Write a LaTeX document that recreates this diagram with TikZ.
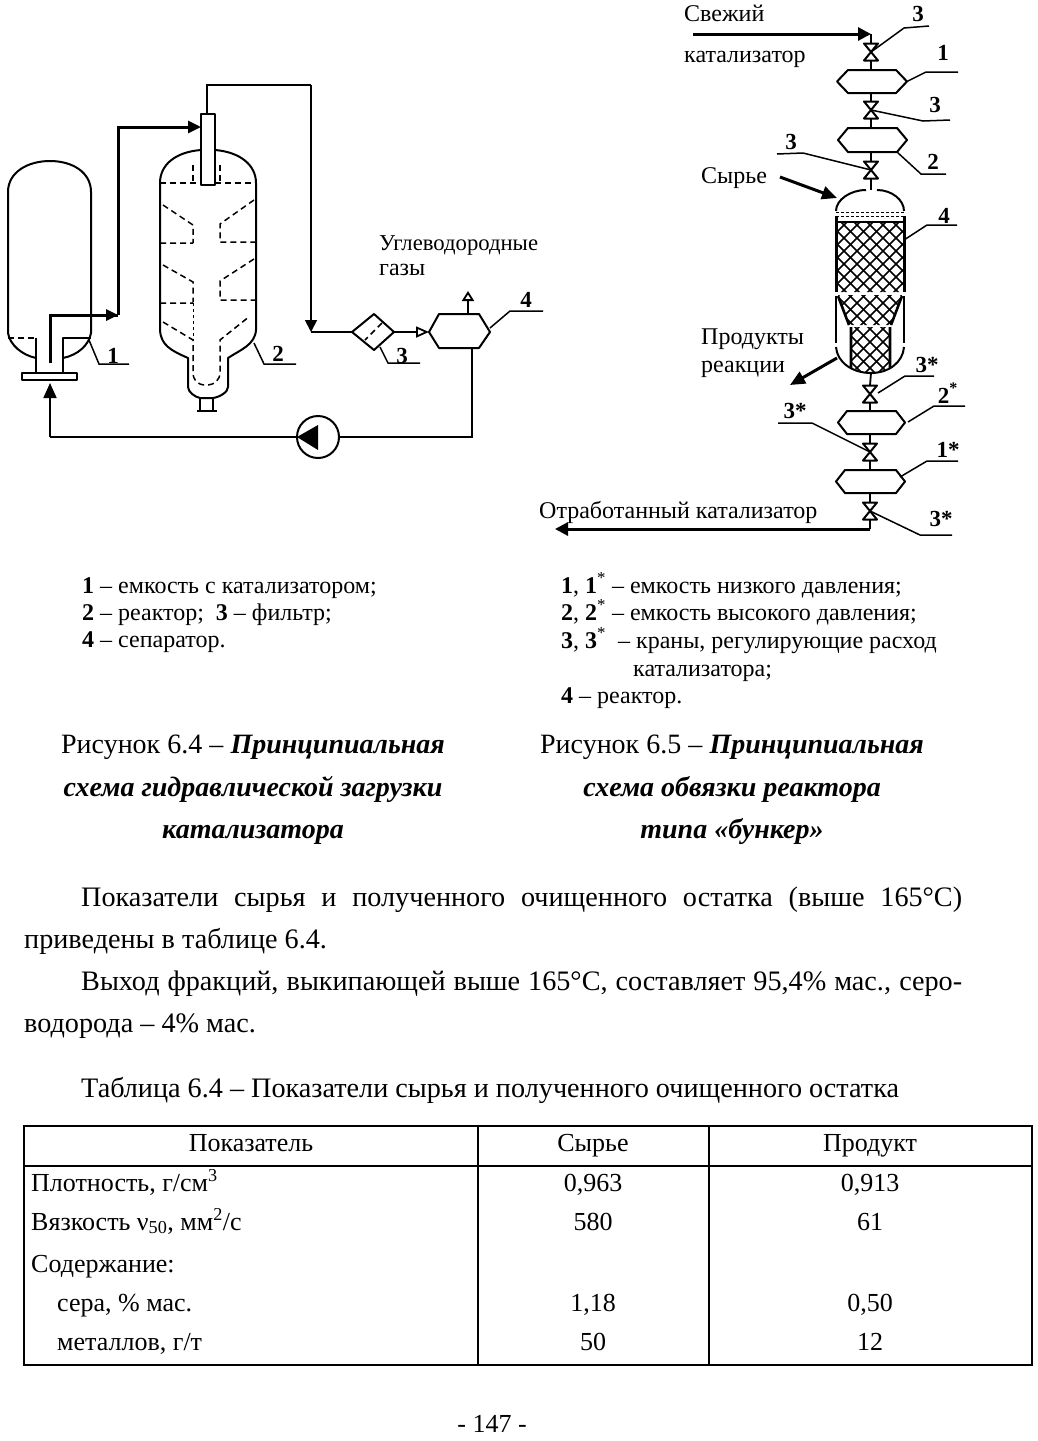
\documentclass[tikz,border=0pt]{standalone}
\usepackage{fontspec}
\setmainfont{Liberation Serif}
\usetikzlibrary{arrows.meta}
% hexagonal vessel on the vertical line: name, left, right, inset, top, bottom, pipe x
\newcommand{\hexvessel}[7]{
  \draw[vessel] (#2,{(#5+#6)/2}) -- ({#2+#4},#5) -- ({#3-#4},#5) -- (#3,{(#5+#6)/2}) -- ({#3-#4},#6) -- ({#2+#4},#6) -- cycle;
  \coordinate (#1-t) at (#7,#5); \coordinate (#1-b) at (#7,#6);
  \coordinate (#1-r) at (#3,{(#5+#6)/2}); \coordinate (#1-l) at (#2,{(#5+#6)/2});
}
% valve: name, x, y
\newcommand{\valvecock}[3]{
  \draw[vessel] ({#2-7},{#3-8.5}) -- ({#2+7},{#3-8.5}) -- ({#2-7},{#3+8.5}) -- ({#2+7},{#3+8.5}) -- cycle;
  \coordinate (#1) at (#2,#3); \coordinate (#1-t) at (#2,{#3-8.5}); \coordinate (#1-b) at (#2,{#3+8.5});
}
\begin{document}
\begin{tikzpicture}[x=1pt,y=-1pt,
  vessel/.style={line width=2pt,line join=round},
  pipe/.style={line width=1.8pt},
  flow/.style={line width=3pt},
  dsh/.style={line width=1.5pt,dash pattern=on 6pt off 4pt},
  leader/.style={line width=1.5pt},
  hatch/.style={line width=1.6pt},
  num/.style={font=\fontsize{23}{23}\selectfont\bfseries,anchor=base,inner sep=0pt},
  small/.style={font=\fontsize{24}{24}\selectfont,anchor=base west,inner sep=0pt},
  body/.style={font=\fontsize{28.2}{28.2}\selectfont,anchor=base west,inner sep=0pt},
  capt/.style={font=\fontsize{28}{28}\selectfont,anchor=base,inner sep=0pt},
  capbi/.style={capt,font=\fontsize{28}{28}\selectfont\bfseries\itshape},
  cell/.style={font=\fontsize{26}{26}\selectfont,anchor=base,inner sep=0pt},
  rowt/.style={font=\fontsize{26}{26}\selectfont,anchor=base west,inner sep=0pt}]
  \useasboundingbox (0,0) rectangle (1038,1441);

  % tank 1
  \draw[vessel] (8,192) .. controls (8,172) and (28,161) .. (50,161) .. controls (72,161) and (91,172) .. (91,192) -- (91,333)
    .. controls (89,345) and (78,355) .. (63,358);
  \draw[vessel] (8,192) -- (8,333) .. controls (10,345) and (22,355) .. (36,358);
  \draw[dsh] (8,338) -- (36,338);
  \draw[vessel] (91,338) -- (63,338) -- (63,373);
  \draw[vessel] (36,338) -- (36,373);
  \draw[vessel] (22,373) rectangle (77,380);
  \coordinate (riser) at (50,363);
  \coordinate (riserTop) at (50,315);
  \coordinate (feedBend) at (118,315);
  \coordinate (feedTop) at (118,127);

  % reactor 2
  \draw[vessel] (160,183) .. controls (160,165) and (175,152) .. (201,150);
  \draw[vessel] (215,150) .. controls (240,152) and (256,165) .. (256,183);
  \draw[vessel] (160,183) -- (160,330) .. controls (161,345) and (170,350) .. (188,358) -- (188,387)
    .. controls (188,392) and (195,397) .. (200,398) -- (213,398) .. controls (220,397) and (228,392) .. (228,387) -- (228,358)
    .. controls (240,350) and (255,345) .. (256,330) -- (256,183);
  \draw[vessel] (200,398) -- (200,411) (213,398) -- (213,411) (197,411) -- (217,411);
  \draw[vessel] (201,114) rectangle (215,185);
  \coordinate (feederIn) at (201,127);
  \coordinate (feederTop) at (207,114);
  % internals
  \draw[dsh] (160,183) -- (201,183) (215,183) -- (256,183);
  \draw[dsh] (193,165) -- (193,183) (220,165) -- (220,183);
  \draw[dsh] (163,205) -- (193,225) -- (193,243) (160,243) -- (193,243);
  \draw[dsh] (254,200) -- (220,224) -- (220,242) -- (256,242);
  \draw[dsh] (163,265) -- (193,282) -- (193,302) (160,303) -- (193,303);
  \draw[dsh] (254,259) -- (220,281) -- (220,300) -- (256,300);
  \draw[dsh] (163,322) -- (193,340) -- (193,372) .. controls (193,380) and (197,385) .. (206,385)
    .. controls (215,385) and (220,380) .. (220,372) -- (220,340) -- (250,316);
  \draw[line width=0.8pt,dash pattern=on 3pt off 3pt] (193,303) -- (193,340);

  % filter 3, separator 4, pump
  \draw[vessel] (352,332) -- (374,314) -- (394,332) -- (374,350) -- cycle;
  \draw[line width=1.5pt,dash pattern=on 6pt off 4pt] (382,323) -- (365,340);
  \coordinate (filterIn) at (352,332);
  \coordinate (filterOut) at (394,332);
  \draw[vessel] (429,332) -- (439,314) -- (479,314) -- (490,332) -- (479,348) -- (439,348) -- cycle;
  \coordinate (sepIn) at (429,332);
  \coordinate (sepTop) at (468,314);
  \coordinate (sepVent) at (468,291);
  \coordinate (sepBot) at (472,348);
  \coordinate (retCorner) at (472,437);
  \node[circle,draw,line width=2pt,minimum size=42pt,inner sep=0pt] (pump) at (318,437) {};
  \fill (297,437) -- (318,425) -- (318,450) -- cycle;
  \coordinate (retEnd) at (50,437);
  \coordinate (flangeIn) at (50,383);
  \coordinate (drop) at (311,85);
  \coordinate (dropEnd) at (311,332);

  % lines of fig 6.4
  \draw[pipe] (sepBot) -- (retCorner) -- (pump.east);
  \draw[pipe] (pump.west) -- (retEnd);
  \draw[pipe,-{Triangle[length=15pt,width=13pt]}] (retEnd) -- (flangeIn);
  \draw[flow] (riser) -- (riserTop) -- (feedBend);
  \fill (118,315) -- (106,309) -- (106,321) -- cycle;
  \draw[flow,-{Triangle[length=13pt,width=12pt]}] (feedBend) -- (feedTop) -- (feederIn);
  \draw[pipe] (feederTop) -- (207,85) -- (drop);
  \draw[pipe,-{Triangle[length=12pt,width=12pt]}] (drop) -- (dropEnd);
  \draw[pipe] (dropEnd) -- (filterIn);
  \draw[pipe,-{Triangle[open,length=13pt,width=11pt]}] (filterOut) -- (sepIn);
  \draw[pipe,-{Triangle[open,length=10pt,width=12pt]}] (sepTop) -- (sepVent);

  % fig 6.5: chain of vessels and valves
  \coordinate (inEnd) at (693,34);
  \coordinate (inTip) at (871,34);
  \valvecock{valA}{871}{52}
  \hexvessel{hexA}{837}{907}{11}{70}{93}{871}
  \valvecock{valB}{871}{110}
  \hexvessel{hexB}{838}{907}{10}{128}{152}{871}
  \valvecock{valC}{871}{170}
  \coordinate (rTop) at (871,190);
  \coordinate (rBot) at (871,373);
  \valvecock{valD}{870}{394}
  \hexvessel{hexC}{838}{905}{9}{411}{434}{870}
  \valvecock{valE}{870}{452}
  \hexvessel{hexD}{836}{905}{9}{470}{493}{870}
  \valvecock{valF}{870}{511}
  \coordinate (outCorner) at (870,529);
  \coordinate (outTip) at (555,529);
  \draw[flow,-{Triangle[length=13pt,width=13pt]}] (inEnd) -- (inTip);
  \draw[pipe] (inTip) -- (valA-t) (valA-b) -- (hexA-t) (hexA-b) -- (valB-t) (valB-b) -- (hexB-t) (hexB-b) -- (valC-t) (valC-b) -- (rTop);
  \draw[pipe] (rBot) -- (valD-t) (valD-b) -- (hexC-t) (hexC-b) -- (valE-t) (valE-b) -- (hexD-t) (hexD-b) -- (valF-t) (valF-b) -- (outCorner);
  \draw[flow,-{Triangle[length=13pt,width=13pt]}] (outCorner) -- (outTip);

  % reactor 4
  \begin{scope}
    \clip (836,222) rectangle (904,292) (838,295) -- (902,295) -- (891,325) -- (848,325) -- cycle
      (851,327) -- (890,327) -- (890,366) .. controls (885,371) and (878,373) .. (871,373)
      .. controls (864,373) and (857,371) .. (851,366) -- cycle;
    \foreach \k in {0,...,24} {
      \draw[hatch] ({650+\k*13},200) -- ++(190,190);
      \draw[hatch] ({830+\k*13},200) -- ++(-190,190);
    }
  \end{scope}
  \draw[vessel] (836,211) .. controls (836,200) and (850,190) .. (866,190);
  \draw[vessel] (877,190) .. controls (892,190) and (904,200) .. (904,211);
  \draw[line width=3pt] (836,216) -- (836,292) (904,216) -- (904,292);
  \draw[vessel] (836,296) -- (836,343) (904,296) -- (904,343);
  \draw[vessel] (836,347) .. controls (837,362) and (852,373) .. (871,373) .. controls (889,373) and (903,362) .. (904,347);
  \draw[line width=0.8pt,dash pattern=on 3pt off 2pt] (836,212) -- (904,212) (836,216) -- (904,216);
  \draw[line width=2.4pt] (836,222) -- (904,222);
  \draw[line width=2.6pt] (838,296) -- (849,325) (902,296) -- (891,325) (851,327) -- (851,368) (890,327) -- (890,368);
  \coordinate (feedFrom) at (780,177);
  \coordinate (feedTo) at (837,198);
  \coordinate (prodFrom) at (837,358);
  \coordinate (prodTo) at (790,385);
  \draw[flow,-{Triangle[length=15pt,width=13pt]}] (feedFrom) -- (feedTo);
  \draw[flow,-{Triangle[length=15pt,width=13pt]}] (prodFrom) -- (prodTo);

  % leaders
  \coordinate (ld1) at (89,340); \coordinate (ld2) at (254,343); \coordinate (ld3) at (380,347); \coordinate (ld4) at (490,328);
  \coordinate (ld5) at (904,240); \coordinate (ld6) at (878,393); \coordinate (ld7) at (908,422); \coordinate (ld8) at (900,477);
  \coordinate (ld9) at (897,152);
  \foreach \f/\mx/\my/\ex/\ey in {ld1/99/364/129/364, ld2/264/364/296/364, ld3/388/363/420/363, ld4/510/311/543/311,
      valA/904/28/929/26, hexA-r/926/72/958/72, valB/923/121/950/120, ld9/921/174/946/174, valC/803/153/777/154,
      ld5/927/225/957/225, ld6/905/376/934/376, ld7/934/406/965/406, valE/812/423/778/423, ld8/927/461/958/461, valF/920/535/952/535} {
    \coordinate (knee) at (\mx,\my);
    \coordinate (tail) at (\ex,\ey);
    \draw[leader] (\f) -- (knee) -- (tail);
  }

  % numbers on the leaders
  \foreach \n/\x/\y/\t in {na/113/363/1, nb/278/361/2, nc/402/363/3, nd/526/307/4, ne/918/21/3, nf/943/60/1, ng/935/112/3, nh/933/169/2,
      ni/791/149/3, nj/944/223/4, nk/927/372/3*, nl/948/403/{2\textsuperscript{*}}, nm/795/418/3*, nn/948/457/1*, no/941/526/3*}
    \node[num] (\n) at (\x,\y) {\t};

  % texts of the schemes
  \node[small,font=\fontsize{22.7}{22.7}\selectfont] (tUg) at (379,250) {Углеводородные};
  \foreach \n/\x/\y/\t in {tGa/379/275/газы, tSv/684/21/Свежий, tKa/684/62/катализатор, tSy/701/183/Сырье,
      tPr/701/344/Продукты, tRe/701/372/реакции, tOt/539/518/Отработанный катализатор}
    \node[small] (\n) at (\x,\y) {\t};

  % legends
  \foreach \n/\x/\y/\t in {la/82/593/{\textbf{1} – емкость с катализатором;}, lb/82/620/{\textbf{2} – реактор;\ \ \textbf{3} – фильтр;}, lc/82/647/{\textbf{4} – сепаратор.},
      ld/561/593/{\textbf{1}, \textbf{1}\textsuperscript{*} – емкость низкого давления;}, le/561/620/{\textbf{2}, \textbf{2}\textsuperscript{*} – емкость высокого давления;},
      lf/561/648/{\textbf{3}, \textbf{3}\textsuperscript{*}\ \ – краны, регулирующие расход}, lg/633/676/{катализатора;}, lh/561/703/{\textbf{4} – реактор.}}
    \node[small] (\n) at (\x,\y) {\t};

  % captions
  \node[capt] (capA) at (253,753) {Рисунок 6.4 – \textbf{\textit{Принципиальная}}};
  \node[capbi] (capB) at (253,796) {схема гидравлической загрузки};
  \node[capbi] (capC) at (253,838) {катализатора};
  \node[capt] (capD) at (732,753) {Рисунок 6.5 – \textbf{\textit{Принципиальная}}};
  \node[capbi] (capE) at (732,796) {схема обвязки реактора};
  \node[capbi] (capF) at (732,838) {типа «бункер»};

  % running text
  \node[body] (parA) at (81,906) {\makebox[881pt][s]{Показатели сырья и полученного очищенного остатка (выше 165°С)}};
  \node[body] (parB) at (24,948) {приведены в таблице 6.4.};
  \node[body] (parC) at (81,990) {\makebox[881pt][s]{Выход фракций, выкипающей выше 165°С, составляет 95,4\% мас., серо-}};
  \node[body] (parD) at (24,1032) {водорода – 4\% мас.};
  \node[body] (parE) at (81,1097) {Таблица 6.4 – Показатели сырья и полученного очищенного остатка};

  % table
  \draw[line width=1.8pt] (24,1126) rectangle (1032,1365);
  \draw[line width=1.8pt] (24,1166) -- (1032,1166) (478,1126) -- (478,1365) (709,1126) -- (709,1365);
  \node[cell] (hdA) at (251,1151) {Показатель};
  \node[cell] (hdB) at (593,1151) {Сырье};
  \node[cell] (hdC) at (870,1151) {Продукт};
  \foreach \n/\x/\y/\t/\a/\b in {r1/31/1191/{Плотность, г/см\textsuperscript{3}}/{0,963}/{0,913}, r2/31/1230/{Вязкость ν\textsubscript{50}, мм\textsuperscript{2}/с}/580/61,
      r3/31/1272/{Содержание:}//, r4/57/1311/{сера, \% мас.}/{1,18}/{0,50}, r5/57/1350/{металлов, г/т}/50/12} {
    \node[rowt] (\n) at (\x,\y) {\t};
    \node[cell] (\n a) at (593,\y) {\a};
    \node[cell] (\n b) at (870,\y) {\b};
  }
  \node[cell] (pageNo) at (492,1432) {- 147 -};
\end{tikzpicture}
\end{document}
